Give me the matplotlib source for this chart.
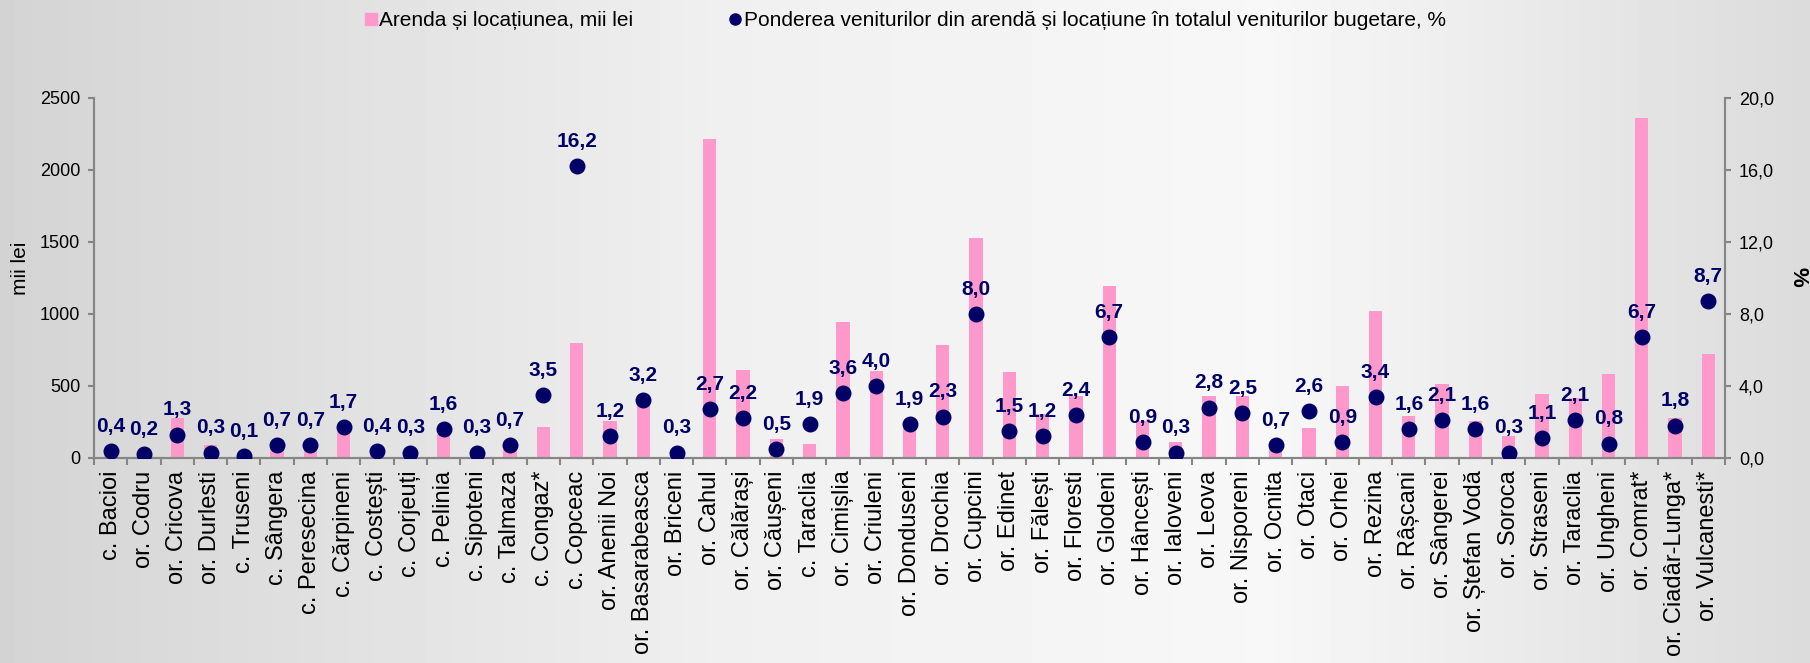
import matplotlib
import matplotlib.pyplot as plt
import numpy as np
from matplotlib.lines import Line2D
from matplotlib.ticker import FuncFormatter

matplotlib.use('Agg')

localitati = [
    "c. Bacioi", "or. Codru", "or. Cricova", "or. Durlesti", "c. Truseni",
    "c. Sângera", "c. Peresecina", "c. Cărpineni", "c. Costești", "c. Corjeuți",
    "c. Pelinia", "c. Sipoteni", "c. Talmaza", "c. Congaz*", "c. Copceac",
    "or. Anenii Noi", "or. Basarabeasca", "or. Briceni", "or. Cahul", "or. Călărași",
    "or. Căușeni", "c. Taraclia", "or. Cimișlia", "or. Criuleni", "or. Donduseni",
    "or. Drochia", "or. Cupcini", "or. Edinet", "or. Fălești", "or. Floresti",
    "or. Glodeni", "or. Hâncești", "or. Ialoveni", "or. Leova", "or. Nisporeni",
    "or. Ocnita", "or. Otaci", "or. Orhei", "or. Rezina", "or. Râșcani",
    "or. Sângerei", "or. Ștefan Vodă", "or. Soroca", "or. Straseni", "or. Taraclia",
    "or. Ungheni", "or. Comrat*", "or. Ciadâr-Lunga*", "or. Vulcanesti*",
]

# arenda si locatiunea, mii lei
arenda = [
    30, 20, 280, 88, 10,
    70, 70, 200, 30, 30,
    165, 20, 60, 215, 801,
    255, 410, 10, 2213, 613,
    134, 95, 942, 604, 230,
    787, 1525, 595, 308, 428,
    1195, 260, 109, 433, 430,
    90, 211, 498, 1021, 294,
    512, 259, 153, 442, 419,
    586, 2359, 280, 720,
]

# ponderea in totalul veniturilor bugetare, %
pondere = [
    0.4, 0.2, 1.3, 0.3, 0.1,
    0.7, 0.7, 1.7, 0.4, 0.3,
    1.6, 0.3, 0.7, 3.5, 16.2,
    1.2, 3.2, 0.3, 2.7, 2.2,
    0.5, 1.9, 3.6, 4.0, 1.9,
    2.3, 8.0, 1.5, 1.2, 2.4,
    6.7, 0.9, 0.3, 2.8, 2.5,
    0.7, 2.6, 0.9, 3.4, 1.6,
    2.1, 1.6, 0.3, 1.1, 2.1,
    0.8, 6.7, 1.8, 8.7,
]

plt.rcParams['font.family'] = ['Liberation Sans', 'DejaVu Sans']

PINK = '#ff99cc'
NAVY = '#000066'
GREY = '#868686'

fig = plt.figure(figsize=(18.1, 6.63), dpi=100)

# grey gradient background
bg = fig.add_axes([0, 0, 1, 1], zorder=-10)
grad = np.interp(np.linspace(0, 1, 600), [0, 0.4, 0.7, 1], [0.83, 0.94, 0.97, 0.86])
bg.imshow(np.tile(grad, (10, 1)), cmap='gray', vmin=0, vmax=1,
          aspect='auto', extent=[0, 1, 0, 1])
bg.axis('off')

left, right, bottom, top = 94 / 1810, 1725 / 1810, 1 - 458 / 663, 1 - 98 / 663
ax = fig.add_axes([left, bottom, right - left, top - bottom])
ax.patch.set_alpha(0)
x = np.arange(len(localitati))
ax.bar(x, arenda, width=0.4, color=PINK, zorder=2)
ax.set_xlim(-0.5, len(localitati) - 0.5)
ax.set_ylim(0, 2500)
ax.set_yticks(range(0, 2501, 500))

ax.set_xticks(x)
ax.set_xticklabels(localitati, rotation=90, fontsize=17)
ax.set_xticks(np.arange(-0.5, len(localitati), 1), minor=True)
ax.tick_params(axis='x', which='major', length=0, pad=9)
ax.tick_params(axis='x', which='minor', length=5, width=1.5, color=GREY)
ax.tick_params(axis='y', length=4, width=1.5, color=GREY, labelsize=13, pad=6)

ax2 = ax.twinx()
ax2.scatter(x, pondere, s=110, color=NAVY, zorder=3)
for xi, p in zip(x, pondere):
    ax2.annotate(f'{p:.1f}'.replace('.', ','), (xi, p), xytext=(0, 11),
                 textcoords='offset points', ha='center', va='bottom',
                 fontsize=15, fontweight='bold', color=NAVY)
ax2.set_ylim(0, 20)
ax2.set_yticks(np.arange(0, 20.1, 4))
ax2.yaxis.set_major_formatter(FuncFormatter(lambda v, _: f'{v:.1f}'.replace('.', ',')))
ax2.tick_params(axis='y', length=4, width=1.5, color=GREY, labelsize=13, pad=6)

for a in (ax, ax2):
    a.spines['top'].set_visible(False)
    for s in ('left', 'right', 'bottom'):
        a.spines[s].set_color(GREY)
        a.spines[s].set_linewidth(1.5)

fig.text(21 / 1810, 1 - 268 / 663, 'mii lei', rotation=90, va='center', ha='center',
         fontsize=15)
fig.text(1798 / 1810, 1 - 277 / 663, '%', rotation=270, va='center', ha='center',
         fontsize=16, fontweight='bold')

handles = [
    Line2D([], [], marker='s', color=PINK, linestyle='none', markersize=8),
    Line2D([], [], marker='o', color=NAVY, linestyle='none', markersize=8),
]
labels = [
    'Arenda și locațiunea, mii lei',
    'Ponderea veniturilor din arendă și locațiune în totalul veniturilor bugetare, %',
]
fig.legend(handles, labels, loc='center', bbox_to_anchor=(0.5, 1 - 21 / 663),
           ncol=2, frameon=False, fontsize=15, handletextpad=0.1,
           columnspacing=4.6, handlelength=0.6, borderaxespad=0)

fig.savefig('out.png', dpi=100)
plt.close(fig)
